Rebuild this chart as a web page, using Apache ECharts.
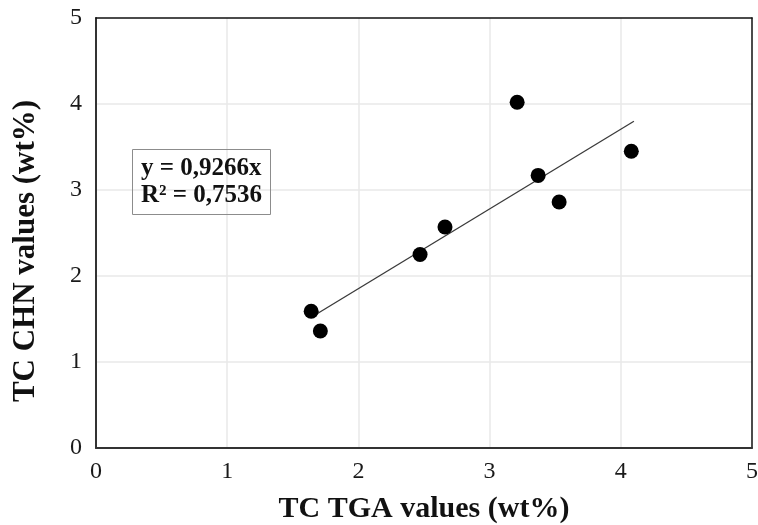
<!DOCTYPE html>
<html>
<head>
<meta charset="utf-8">
<style>html,body{margin:0;padding:0;background:#fff;}#chart{width:758px;height:525px;}</style>
<script src="https://cdn.jsdelivr.net/npm/echarts@6/dist/echarts.min.js"></script>
</head>
<body>
<div id="chart"></div>
<script>
// Data
const tgaValues = [1.64, 1.71, 2.47, 2.66, 3.21, 3.37, 3.53, 4.08];
const chnValues = [1.59, 1.36, 2.25, 2.57, 4.02, 3.17, 2.86, 3.45];
const trendSlope = 0.9266;
const trendRange = [1.66, 4.10];
const axisTicks = [0, 1, 2, 3, 4, 5];
const equationText = ['y = 0,9266x', 'R² = 0,7536'];

const points = tgaValues.map((x, i) => [x, chnValues[i]]);
const trendPoints = trendRange.map(x => [x, trendSlope * x]);

const serif = '"Liberation Serif", "Times New Roman", serif';
const axMin = axisTicks[0], axMax = axisTicks[axisTicks.length - 1];
const frameAxis = {
  type: 'value', min: axMin, max: axMax, interval: 1,
  axisLine: { show: true, onZero: false, lineStyle: { color: '#111', width: 1.5 } },
  axisTick: { show: false }, axisLabel: { show: false }, splitLine: { show: false }
};
const chart = echarts.init(document.getElementById('chart'));
chart.setOption({
  animation: false,
  backgroundColor: '#fff',
  title: {
    text: equationText.join('\n'),
    left: 132, top: 149,
    padding: [6, 9, 6, 9],
    borderColor: '#8c8c8c', borderWidth: 1,
    textStyle: { fontFamily: serif, fontWeight: 'bold', fontSize: 25, lineHeight: 27, color: '#111' }
  },
  grid: { left: 96, right: 6, top: 18, bottom: 77, containLabel: false, outerBoundsMode: 'none' },
  xAxis: [{
    type: 'value', min: axMin, max: axMax, interval: 1,
    name: 'TC TGA values (wt%)', nameLocation: 'middle', nameGap: 46,
    nameTextStyle: { fontFamily: serif, fontWeight: 'bold', fontSize: 30, color: '#111' },
    axisLine: { show: true, onZero: false, lineStyle: { color: '#333', width: 2 } },
    axisTick: { show: false },
    axisLabel: { fontFamily: serif, fontSize: 24, color: '#1a1a1a', margin: 12 },
    splitLine: { show: true, showMinLine: false, showMaxLine: false, lineStyle: { color: '#e8e8e8', width: 1.5 } }
  }, Object.assign({ position: 'top' }, frameAxis)],
  yAxis: [{
    type: 'value', min: axMin, max: axMax, interval: 1,
    name: 'TC CHN values (wt%)', nameLocation: 'middle', nameGap: 55,
    nameTextStyle: { fontFamily: serif, fontWeight: 'bold', fontSize: 31, color: '#111', padding: [0, 36, 0, 0] },
    axisLine: { show: true, onZero: false, lineStyle: { color: '#333', width: 2 } },
    axisTick: { show: false },
    axisLabel: { fontFamily: serif, fontSize: 24, color: '#1a1a1a', margin: 14 },
    splitLine: { show: true, showMinLine: false, showMaxLine: false, lineStyle: { color: '#e8e8e8', width: 1.5 } }
  }, Object.assign({ position: 'right' }, frameAxis)],
  series: [
    {
      type: 'line', data: trendPoints, symbol: 'none', silent: true,
      lineStyle: { color: '#3a3a3a', width: 1.3 }, z: 2
    },
    {
      type: 'scatter', data: points, symbol: 'circle', symbolSize: 15,
      itemStyle: { color: '#000', opacity: 1 }, z: 3
    }
  ]
});
</script>
</body>
</html>
